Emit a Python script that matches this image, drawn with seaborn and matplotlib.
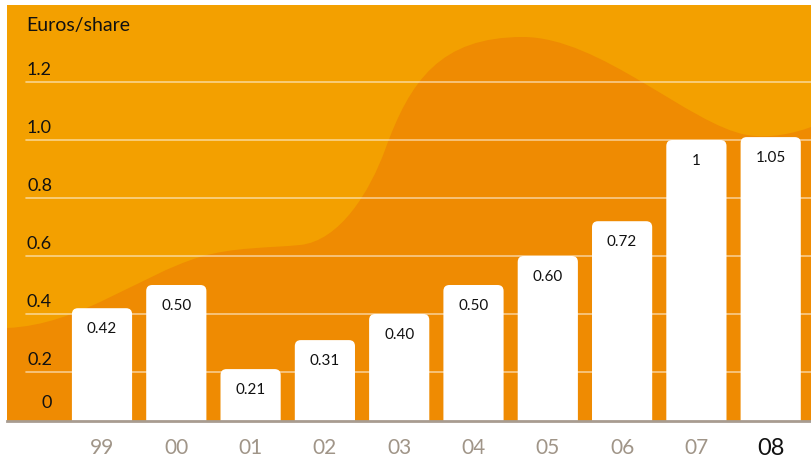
import matplotlib
matplotlib.use("Agg")
import matplotlib.pyplot as plt
import seaborn as sns
import pandas as pd
from matplotlib.patches import FancyBboxPatch, PathPatch
from matplotlib.path import Path
import matplotlib.transforms as mtransforms

# ---- data ----
years = ["99", "00", "01", "02", "03", "04", "05", "06", "07", "08"]
dividend_labels = ["0.42", "0.50", "0.21", "0.31", "0.40", "0.50", "0.60", "0.72", "1", "1.05"]
bar_heights = [0.42, 0.50, 0.21, 0.31, 0.40, 0.50, 0.60, 0.72, 1.00, 1.01]
y_ticks = [0, 0.2, 0.4, 0.6, 0.8, 1.0, 1.2]
y_tick_labels = ["0", "0.2", "0.4", "0.6", "0.8", "1.0", "1.2"]
unit_label = "Euros/share"

df = pd.DataFrame({"year": years, "height": bar_heights})

W, H = 811, 461
LIGHT = "#F3A000"
DARK = "#EF8B02"

sns.set_theme(style="white")
plt.rcParams["font.family"] = ["Lato", "DejaVu Sans"]

fig = plt.figure(figsize=(W / 100, H / 100), dpi=100)
fig.patch.set_facecolor("white")

# axes box in pixels: x 7..811, y 5..421 (from top)
ax = fig.add_axes([7 / W, (H - 421) / H, (811 - 7) / W, (421 - 5) / H])
ax.set_facecolor(LIGHT)

def px(x, y):
    return (x / W, 1 - y / H)

# decorative darker wave (figure pixel coords)
verts = [px(7, 328),
         px(80, 325), px(140, 275), px(200, 257),
         px(233, 247), px(270, 248), px(300, 245),
         px(340, 241), px(370, 191), px(385, 150),
         px(410, 81), px(440, 37), px(523, 37),
         px(600, 37), px(690, 125), px(747, 135),
         px(770, 139), px(795, 133), px(811, 127),
         px(811, 425), px(7, 425), px(7, 328)]
codes = ([Path.MOVETO] + [Path.CURVE4] * 18 +
         [Path.LINETO, Path.LINETO, Path.CLOSEPOLY])
wave = PathPatch(Path(verts, codes), facecolor=DARK, edgecolor="none",
                 transform=fig.transFigure, zorder=0.5)
ax.add_patch(wave)
wave.set_clip_path(ax.patch)

# bars via seaborn
sns.barplot(data=df, x="year", y="height", color="white", saturation=1,
            width=0.81, ax=ax, zorder=2)

ax.set_xlim((7 - 102) / 74.3, (811 - 102) / 74.3)
px_per_unit = 290.0
ax.set_ylim(9 / px_per_unit, (430 - 5) / px_per_unit)

# replace rectangles with rounded-top bars
x_px = 74.3
radius_px = 6
rs = radius_px / x_px
aspect = (radius_px / px_per_unit) / rs
rects = list(ax.patches)
for p in rects:
    if p is wave:
        continue
    x0, w, h = p.get_x(), p.get_width(), p.get_height()
    p.set_visible(False)
    fb = FancyBboxPatch((x0, -0.3), w, h + 0.3,
                        boxstyle=f"round,pad=0,rounding_size={rs}",
                        mutation_aspect=aspect, facecolor="white",
                        edgecolor="none", zorder=2)
    ax.add_patch(fb)

# value labels inside bars
for i, (h, lab) in enumerate(zip(bar_heights, dividend_labels)):
    ax.text(i, h - 21 / px_per_unit, lab, ha="center", va="center",
            fontsize=11, color="#111111", zorder=3)

# gridlines
grid_xmin = (26 - 7) / (811 - 7)
for v in y_ticks:
    if v > 0:
        ax.axhline(v, xmin=grid_xmin, xmax=1, color="white", alpha=0.55,
                   lw=1.2, zorder=1)

# y tick labels (custom placement above gridlines)
trans = mtransforms.blended_transform_factory(fig.transFigure, ax.transData)
for v, lab in zip(y_ticks, y_tick_labels):
    yy = v + 12 / px_per_unit
    if v == 0:
        yy = 9 / px_per_unit + 18 / px_per_unit
    ax.text(52 / W, yy, lab, transform=trans, ha="right", va="center",
            fontsize=13, color="#111111", zorder=3)

fig.text(26 / W, 1 - 25 / H, unit_label, ha="left", va="center",
         fontsize=14, color="#111111")

# axes styling
ax.set_yticks([])
ax.set_xlabel("")
ax.set_ylabel("")
for s in ["top", "right", "left"]:
    ax.spines[s].set_visible(False)
ax.spines["bottom"].set_color("#A89C90")
ax.spines["bottom"].set_linewidth(2)
ax.spines["bottom"].set_zorder(4)
ax.tick_params(axis="x", length=0, pad=12)
ax.set_xticks(range(len(years)))
ax.set_xticklabels(years)
for i, t in enumerate(ax.get_xticklabels()):
    if i == len(years) - 1:
        t.set_color("#111111")
        t.set_fontsize(17)
    else:
        t.set_color("#A09588")
        t.set_fontsize(15)

fig.savefig("out.png", dpi=100, facecolor="white")
